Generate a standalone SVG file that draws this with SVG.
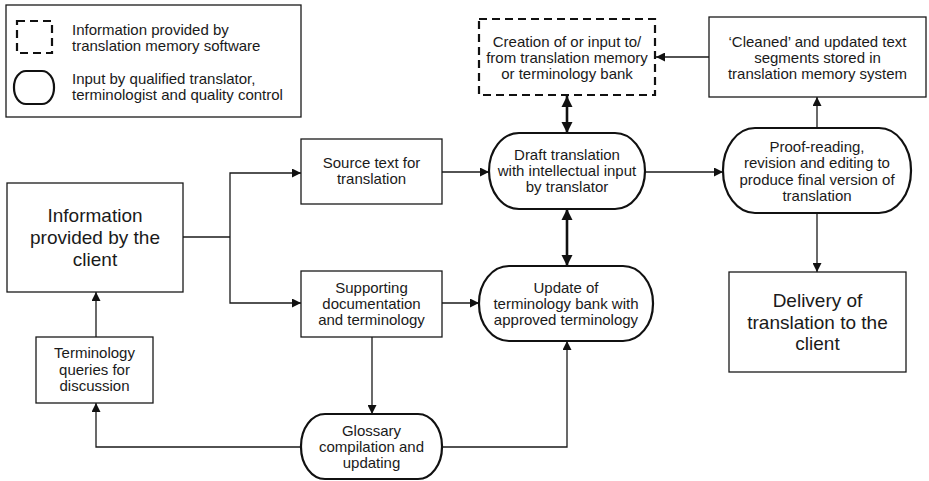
<svg xmlns="http://www.w3.org/2000/svg" width="929" height="481" viewBox="0 0 929 481">
<defs>
<style>
.box{fill:#fff;stroke:#1a1a1a;stroke-width:1.3}
.rnd{fill:#fff;stroke:#111;stroke-width:2.2}
.dash{fill:#fff;stroke:#111;stroke-width:2.2;stroke-dasharray:8,5}
.t{font-family:"Liberation Sans",Arial,sans-serif;font-size:15px;fill:#1a1a1a;text-anchor:middle}
.tl{font-family:"Liberation Sans",Arial,sans-serif;font-size:15px;fill:#1a1a1a}
.big{font-family:"Liberation Sans",Arial,sans-serif;font-size:19px;fill:#1a1a1a;text-anchor:middle}
.c{fill:none;stroke:#1a1a1a;stroke-width:1.3}
.ck{fill:none;stroke:#111;stroke-width:2.6}
</style>
<marker id="a" viewBox="0 0 10 10" refX="10" refY="5" markerWidth="10" markerHeight="9" markerUnits="userSpaceOnUse" orient="auto-start-reverse">
<path d="M0,0 L10,5 L0,10 z" fill="#111"/>
</marker>
<marker id="ak" viewBox="0 0 10 10" refX="10" refY="5" markerWidth="11" markerHeight="12" markerUnits="userSpaceOnUse" orient="auto-start-reverse">
<path d="M0,0 L10,5 L0,10 z" fill="#111"/>
</marker>
</defs>

<g id="legend">
<rect class="box" x="6" y="5" width="295" height="112"/>
<rect class="dash" x="17" y="21" width="35" height="32"/>
<text class="tl" x="72" y="35">Information provided by</text>
<text class="tl" x="72" y="51">translation memory software</text>
<rect class="rnd" x="14" y="71" width="40" height="33" rx="12" ry="16"/>
<text class="tl" x="72" y="84">Input by qualified translator,</text>
<text class="tl" x="72" y="100">terminologist and quality control</text>
</g>

<g id="connectors">
<path class="c" d="M183,237 H230"/>
<path class="c" d="M230,237 V173 H301" marker-end="url(#a)"/>
<path class="c" d="M230,237 V303 H301" marker-end="url(#a)"/>
<path class="c" d="M442,172 H489" marker-end="url(#a)"/>
<path class="c" d="M442,303 H479" marker-end="url(#a)"/>
<path class="ck" d="M567,96 V133" marker-start="url(#ak)" marker-end="url(#ak)"/>
<path class="ck" d="M567,209 V266" marker-start="url(#ak)" marker-end="url(#ak)"/>
<path class="c" d="M645,172 H723" marker-end="url(#a)"/>
<path class="c" d="M817,128 V97" marker-end="url(#a)"/>
<path class="c" d="M709,57 H656" marker-end="url(#a)"/>
<path class="c" d="M817,213 V272" marker-end="url(#a)"/>
<path class="c" d="M372,337 V414" marker-end="url(#a)"/>
<path class="c" d="M301,447 H96 V403" marker-end="url(#a)"/>
<path class="c" d="M96,337 V292" marker-end="url(#a)"/>
<path class="c" d="M442,447 H567 V341" marker-end="url(#a)"/>
</g>

<g id="info-client">
<rect class="box" x="7" y="183" width="176" height="109"/>
<text class="big" x="95" y="222">Information</text>
<text class="big" x="95" y="244">provided by the</text>
<text class="big" x="95" y="266">client</text>
</g>

<g id="source-text">
<rect class="box" x="301" y="139" width="141" height="65"/>
<text class="t" x="371.5" y="168">Source text for</text>
<text class="t" x="371.5" y="184">translation</text>
</g>

<g id="supporting">
<rect class="box" x="301" y="271" width="141" height="66"/>
<text class="t" x="371.5" y="293">Supporting</text>
<text class="t" x="371.5" y="309">documentation</text>
<text class="t" x="371.5" y="325">and terminology</text>
</g>

<g id="tm-bank">
<rect class="dash" x="479" y="19" width="176" height="76"/>
<text class="t" x="567" y="47">Creation of or input to/</text>
<text class="t" x="567" y="63">from translation memory</text>
<text class="t" x="567" y="79">or terminology bank</text>
</g>

<g id="cleaned">
<rect class="box" x="709" y="17" width="217" height="80"/>
<text class="t" x="817.5" y="47">‘Cleaned’ and updated text</text>
<text class="t" x="817.5" y="63">segments stored in</text>
<text class="t" x="817.5" y="79">translation memory system</text>
</g>

<g id="draft">
<rect class="rnd" x="489" y="133" width="156" height="76" rx="30" ry="38"/>
<text class="t" x="567" y="160">Draft translation</text>
<text class="t" x="567" y="176">with intellectual input</text>
<text class="t" x="567" y="192">by translator</text>
</g>

<g id="proof">
<rect class="rnd" x="723" y="128" width="188" height="85" rx="32" ry="42"/>
<text class="t" x="817" y="152">Proof-reading,</text>
<text class="t" x="817" y="168">revision and editing to</text>
<text class="t" x="817" y="185">produce final version of</text>
<text class="t" x="817" y="201">translation</text>
</g>

<g id="update">
<rect class="rnd" x="479" y="266" width="174" height="75" rx="30" ry="37"/>
<text class="t" x="566" y="293">Update of</text>
<text class="t" x="566" y="309">terminology bank with</text>
<text class="t" x="566" y="325">approved terminology</text>
</g>

<g id="delivery">
<rect class="box" x="729" y="272" width="177" height="100"/>
<text class="big" x="817.5" y="307">Delivery of</text>
<text class="big" x="817.5" y="329">translation to the</text>
<text class="big" x="817.5" y="350">client</text>
</g>

<g id="term-queries">
<rect class="box" x="36" y="337" width="117" height="66"/>
<text class="t" x="94.5" y="358">Terminology</text>
<text class="t" x="94.5" y="375">queries for</text>
<text class="t" x="94.5" y="391">discussion</text>
</g>

<g id="glossary">
<rect class="rnd" x="301" y="414" width="141" height="65" rx="24" ry="32"/>
<text class="t" x="371.5" y="436">Glossary</text>
<text class="t" x="371.5" y="452">compilation and</text>
<text class="t" x="371.5" y="468">updating</text>
</g>
</svg>
